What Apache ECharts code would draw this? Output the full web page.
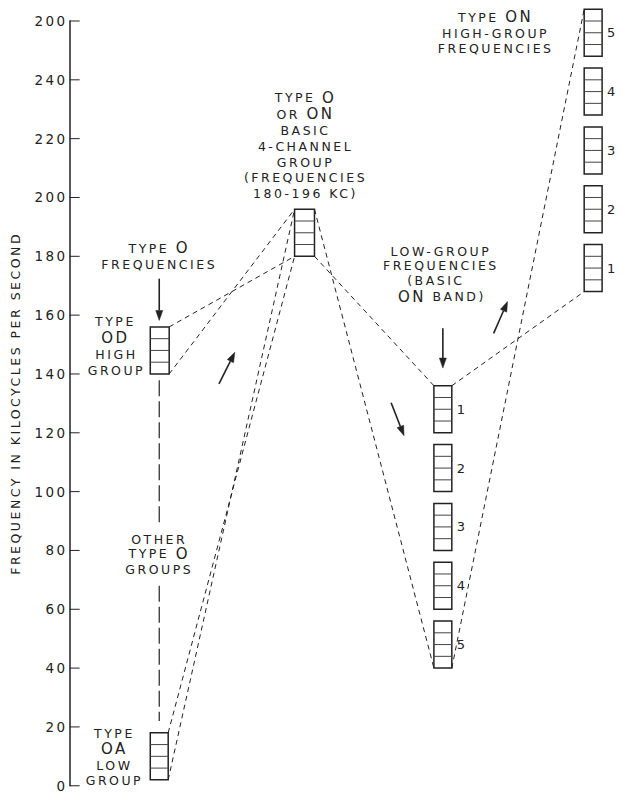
<!DOCTYPE html>
<html>
<head>
<meta charset="utf-8">
<script src="https://cdn.jsdelivr.net/npm/echarts@6/dist/echarts.min.js"></script>
<style>
  html, body { margin: 0; padding: 0; background: #fff; }
  #main { width: 622px; height: 794px; }
  #main text { letter-spacing: 2.5px; }
</style>
</head>
<body>
<div id="main"></div>
<script>
// ---- Axis ticks (as printed; the top label reads "200") ----
const yTickValues = [0, 20, 40, 60, 80, 100, 120, 140, 160, 180, 200, 220, 240, 260];
const yTickLabels = ['0','20','40','60','80','100','120','140','160','180','200','220','240','200'];

// ---- Channel groups (4 channels each), frequencies in kc ----
const boxLow  = [2, 140, 180, 120, 100, 80, 60, 40, 168, 188, 208, 228, 248];
const boxHigh = [18, 156, 196, 136, 116, 96, 76, 56, 184, 204, 224, 244, 264];
// horizontal placement of each group on a hidden schematic axis
const boxLeft  = [81, 81, 226, 366, 366, 366, 366, 366, 517, 517, 517, 517, 517];
const boxRight = [99, 100, 246, 384, 384, 384, 384, 384, 535, 535, 535, 535, 535];
const boxNumbers = ['', '', '', '1', '2', '3', '4', '5', '1', '2', '3', '4', '5'];

// ---- Dashed translation lines: [x, kc] -> [x, kc] ----
const linkFrom = [[100,156],[100,140],[99,18],[99,2],[246,180],[246,196],[384,136],[384,40]];
const linkTo   = [[226,180],[226,196],[226,180],[226,196],[366,136],[366,40],[517,168],[517,264]];

// ---- Long-dash line between Type O groups ----
const otherFrom = [[90,137.9],[90,68]];
const otherTo   = [[90,88.9],[90,22]];

// ---- Arrows ----
const arrowFrom = [[90,172.4],[150,136.6],[323,130.2],[375,155.5],[426,153.8]];
const arrowTo   = [[90,158.2],[166,147.4],[336,119],[375,142],[440,164.6]];

// ---- Annotation text (rich: {s|small} {b|big}) ----
const NB = '\u00a0';
const noteText = [
  '{s|TYPE' + NB + '}{b|O}', '{s|FREQUENCIES}',
  '{s|TYPE}', '{b|OD}', '{s|HIGH}', '{s|GROUP}',
  '{s|TYPE' + NB + '}{b|O}', '{s|OR' + NB + '}{b|ON}', '{s|BASIC}', '{s|4-CHANNEL}', '{s|GROUP}', '{s|(FREQUENCIES}', '{s|180-196' + NB + 'KC)}',
  '{s|LOW-GROUP}', '{s|FREQUENCIES}', '{s|(BASIC}', '{b|ON}{s|' + NB + 'BAND)}',
  '{s|TYPE' + NB + '}{b|ON}', '{s|HIGH-GROUP}', '{s|FREQUENCIES}',
  '{s|OTHER}', '{s|TYPE' + NB + '}{b|O}', '{s|GROUPS}',
  '{s|TYPE}', '{b|OA}', '{s|LOW}', '{s|GROUP}'
];
const noteX = [90, 90, 46, 46, 47, 47, 237, 237, 237, 237, 237, 237, 237, 373, 373, 368, 374, 428, 428, 428, 90, 90, 90, 45, 45, 45, 45];
const noteY = [182.8, 177.1, 157.7, 152.1, 146.7, 141.3,
  233.9, 228.3, 222.8, 217.4, 212, 206.9, 201.5,
  181.5, 176.8, 171.7, 166.3,
  261.2, 255.8, 250.8,
  83.8, 78.8, 73.4,
  17.9, 12.5, 6.8, 1.7];

const INK = '#222';
const FONT = 'DejaVu Sans';
const LETTER_SPACING = 2.5;

// text measurement that matches the letter-spaced lettering
const measureCtx = document.createElement('canvas').getContext('2d');
measureCtx.letterSpacing = LETTER_SPACING + 'px';
echarts.setPlatformAPI({
  measureText: function (text, font) {
    measureCtx.font = font || '12px sans-serif';
    return measureCtx.measureText(text);
  }
});

const chart = echarts.init(document.getElementById('main'), null, { renderer: 'svg' });

const lineItem = (style) => (params, api) => {
  const a = api.coord([api.value(0), api.value(1)]);
  const b = api.coord([api.value(2), api.value(3)]);
  return { type: 'line', shape: { x1: a[0], y1: a[1], x2: b[0], y2: b[1] }, style };
};

const option = {
  animation: false,
  backgroundColor: '#fff',
  grid: { left: 67, right: 0, top: 21, bottom: 4, containLabel: false },
  xAxis: { type: 'value', min: 0, max: 555, show: false },
  yAxis: {
    type: 'value', min: 0, max: 260, interval: 20,
    name: 'FREQUENCY IN KILOCYCLES PER SECOND',
    nameLocation: 'middle', nameGap: 45,
    nameTextStyle: { fontFamily: FONT, fontSize: 12.5, color: INK },
    axisLine: { show: true, lineStyle: { color: INK, width: 1.5 } },
    axisTick: { show: false },
    axisLabel: {
      margin: 2, fontFamily: FONT, fontSize: 13.5, color: INK,
      formatter: (v) => yTickLabels[yTickValues.indexOf(v)]
    },
    splitLine: { show: false }
  },
  series: [
    {
      type: 'custom', name: 'ticks', silent: true, clip: false,
      data: yTickValues.map(v => [0, v]),
      renderItem: (params, api) => {
        const p = api.coord([api.value(0), api.value(1)]);
        return { type: 'line', shape: { x1: p[0], y1: p[1], x2: p[0] + 10, y2: p[1] },
          style: { stroke: INK, lineWidth: 1 } };
      }
    },
    {
      type: 'custom', name: 'links', silent: true, clip: false,
      data: linkFrom.map((f, i) => [f[0], f[1], linkTo[i][0], linkTo[i][1]]),
      encode: { x: [0, 2], y: [1, 3] },
      renderItem: lineItem({ stroke: INK, lineWidth: 1, lineDash: [5, 4] })
    },
    {
      type: 'custom', name: 'other', silent: true, clip: false,
      data: otherFrom.map((f, i) => [f[0], f[1], otherTo[i][0], otherTo[i][1]]),
      encode: { x: [0, 2], y: [1, 3] },
      renderItem: lineItem({ stroke: INK, lineWidth: 1.2, lineDash: [16, 5] })
    },
    {
      type: 'custom', name: 'groups', silent: true, clip: false,
      data: boxLow.map((v, i) => [boxLeft[i], v, boxRight[i], boxHigh[i]]),
      encode: { x: [0, 2], y: [1, 3] },
      renderItem: (params, api) => {
        const i = params.dataIndex;
        const tl = api.coord([api.value(0), api.value(3)]);
        const br = api.coord([api.value(2), api.value(1)]);
        const w = br[0] - tl[0], h = br[1] - tl[1];
        const children = [{
          type: 'rect', shape: { x: tl[0], y: tl[1], width: w, height: h },
          style: { fill: 'none', stroke: INK, lineWidth: 1.5 }
        }];
        for (let k = 1; k < 4; k++) {
          const y = tl[1] + h * k / 4;
          children.push({ type: 'line', shape: { x1: tl[0], y1: y, x2: br[0], y2: y },
            style: { stroke: '#444', lineWidth: 1 } });
        }
        if (boxNumbers[i]) {
          children.push({ type: 'text', style: {
            text: boxNumbers[i], x: br[0] + 5, y: tl[1] + h / 2,
            fill: INK, font: '13px ' + FONT, textAlign: 'left', textVerticalAlign: 'middle' } });
        }
        return { type: 'group', children };
      }
    },
    {
      type: 'custom', name: 'arrows', silent: true, clip: false,
      data: arrowFrom.map((f, i) => [f[0], f[1], arrowTo[i][0], arrowTo[i][1]]),
      encode: { x: [0, 2], y: [1, 3] },
      renderItem: (params, api) => {
        const a = api.coord([api.value(0), api.value(1)]);
        const b = api.coord([api.value(2), api.value(3)]);
        const dx = b[0] - a[0], dy = b[1] - a[1];
        const len = Math.sqrt(dx * dx + dy * dy);
        const ux = dx / len, uy = dy / len;
        const hl = 10, hw = 3.5;
        const bx = b[0] - ux * hl, by = b[1] - uy * hl;
        return { type: 'group', children: [
          { type: 'line', shape: { x1: a[0], y1: a[1], x2: bx, y2: by },
            style: { stroke: INK, lineWidth: 1.6 } },
          { type: 'polygon', shape: { points: [
              [b[0], b[1]], [bx - uy * hw, by + ux * hw], [bx + uy * hw, by - ux * hw]] },
            style: { fill: INK, stroke: INK, lineWidth: 0.5 } }
        ] };
      }
    },
    {
      type: 'custom', name: 'notes', silent: true, clip: false,
      data: noteX.map((x, i) => [x, noteY[i]]),
      renderItem: (params, api) => {
        const i = params.dataIndex;
        const p = api.coord([api.value(0), api.value(1)]);
        return { type: 'text', x: p[0], y: p[1], style: {
          text: noteText[i], textAlign: 'center', textVerticalAlign: 'middle',
          fill: INK, fontFamily: FONT,
          rich: {
            s: { fontSize: 12.5, fontFamily: FONT, fill: INK, color: INK },
            b: { fontSize: 15, fontFamily: FONT, fill: INK, color: INK }
          } } };
      }
    }
  ]
};
chart.setOption(option);
</script>
</body>
</html>
